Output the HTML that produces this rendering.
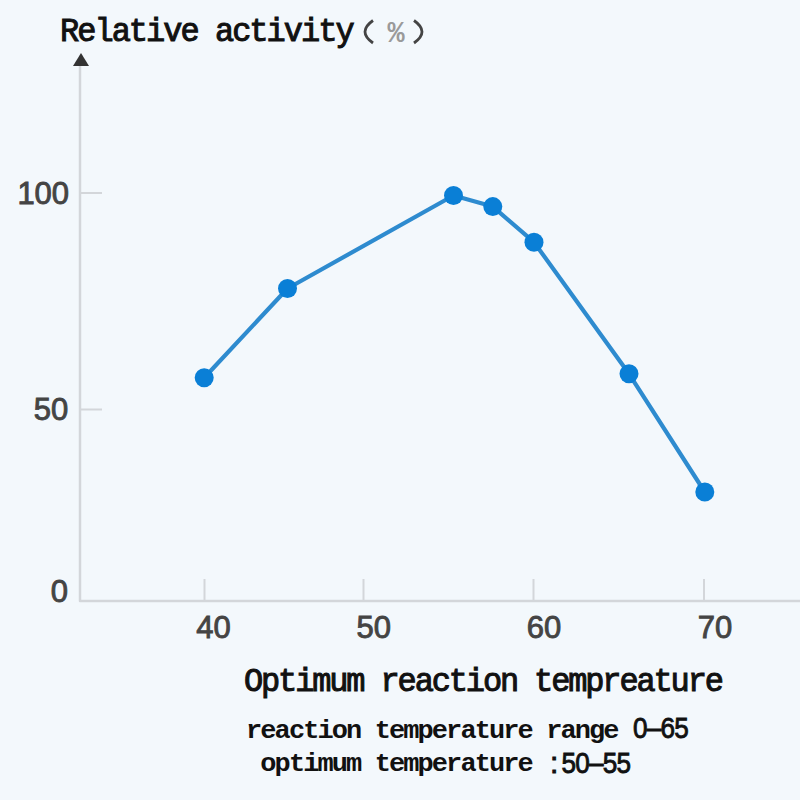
<!DOCTYPE html>
<html><head><meta charset="utf-8">
<style>
html,body{margin:0;padding:0;}
body{width:800px;height:800px;background:#f3f8fc;position:relative;overflow:hidden;}
svg{position:absolute;left:0;top:0;}
#wrap{position:absolute;left:0;top:0;width:800px;height:800px;}
.mono{font-family:"Liberation Mono",monospace;font-weight:bold;fill:#111;white-space:pre;}
.monor{font-family:"Liberation Mono",monospace;fill:#111;stroke:#111;stroke-width:1.0px;white-space:pre;}
.sans{font-family:"Liberation Sans",sans-serif;fill:#444;stroke:#444;stroke-width:0.9px;}
.dig{font-family:"Liberation Sans",sans-serif;fill:#111;stroke:#111;stroke-width:0.9px;}
</style></head><body><div id="wrap">
<svg width="800" height="800" viewBox="0 0 800 800">
  <g stroke="#d3d6da" stroke-width="2.5" fill="none" stroke-linejoin="round">
    <polyline points="80,64 80,601 800,601"/>
    <line x1="80" y1="193" x2="102" y2="193" stroke-width="2"/>
    <line x1="80" y1="409.5" x2="102" y2="409.5" stroke-width="2"/>
    <line x1="204.5" y1="579" x2="204.5" y2="601" stroke-width="2"/>
    <line x1="363.5" y1="579" x2="363.5" y2="601" stroke-width="2"/>
    <line x1="533.5" y1="579" x2="533.5" y2="601" stroke-width="2"/>
    <line x1="704" y1="579" x2="704" y2="601" stroke-width="2"/>
  </g>
  <polygon points="81,53 73,66 89,66" fill="#333"/>
  <polyline points="204.2,377.8 287.5,288.5 453.5,195.5 492.8,206.6 534,242.2 629,373.8 704.8,492" fill="none" stroke="#2e8bcf" stroke-width="4.2" stroke-linejoin="round"/>
  <g fill="#0a7fd6">
    <circle cx="204.2" cy="377.8" r="9.5"/>
    <circle cx="287.5" cy="288.5" r="9.5"/>
    <circle cx="453.5" cy="195.5" r="9.5"/>
    <circle cx="492.8" cy="206.6" r="9.5"/>
    <circle cx="534" cy="242.2" r="9.5"/>
    <circle cx="629" cy="373.8" r="9.5"/>
    <circle cx="704.8" cy="492" r="9.5"/>
  </g>

  <!-- axis labels -->
  <g class="sans" font-size="31" text-anchor="middle">
    <text x="43.25" y="204">100</text>
    <text x="51" y="420">50</text>
    <text x="59.25" y="602">0</text>
    <text x="213.5" y="638">40</text>
    <text x="373.75" y="638">50</text>
    <text x="544" y="638">60</text>
    <text x="715" y="638">70</text>
  </g>

  <!-- title -->
  <text class="monor" x="60" y="41" font-size="32" letter-spacing="-1.98" transform="translate(0,41) scale(1,1.03) translate(0,-41)">Relative activity</text>
  <path d="M373,20.5 Q357,31.75 373,43" fill="none" stroke="#444" stroke-width="2.8"/>
  <text x="396" y="42.5" font-family="Liberation Mono" font-weight="bold" font-size="30" fill="#9a9a9a" text-anchor="middle" transform="translate(396,42.5) scale(0.95,1) translate(-396,-42.5)">%</text>
  <path d="M414,20.5 Q430,31.75 414,43" fill="none" stroke="#444" stroke-width="2.8"/>

  <!-- x title -->
  <text class="monor" x="244" y="691.5" font-size="32" letter-spacing="-2.13" transform="translate(0,691.5) scale(1,1.03) translate(0,-691.5)">Optimum reaction tempreature</text>

  <!-- notes -->
  <text class="mono" x="246" y="738" font-size="27" letter-spacing="-1.9" transform="translate(0,738) scale(1,0.98) translate(0,-738)">reaction temperature range</text>
  <text class="dig" x="633" y="738" font-size="30" letter-spacing="-0.9" transform="translate(633,0) scale(0.87,1) translate(-633,0)">0–65</text>
  <text class="mono" x="246" y="771" font-size="27" letter-spacing="-1.9" transform="translate(0,771) scale(1,0.98) translate(0,-771)"> optimum temperature</text>
  <text class="dig" x="550" y="773" font-size="30">:</text>
  <text class="dig" x="561.5" y="773" font-size="30" letter-spacing="-0.9" transform="translate(561.5,0) scale(0.87,1) translate(-561.5,0)">50–55</text>
</svg></div>
</body></html>
